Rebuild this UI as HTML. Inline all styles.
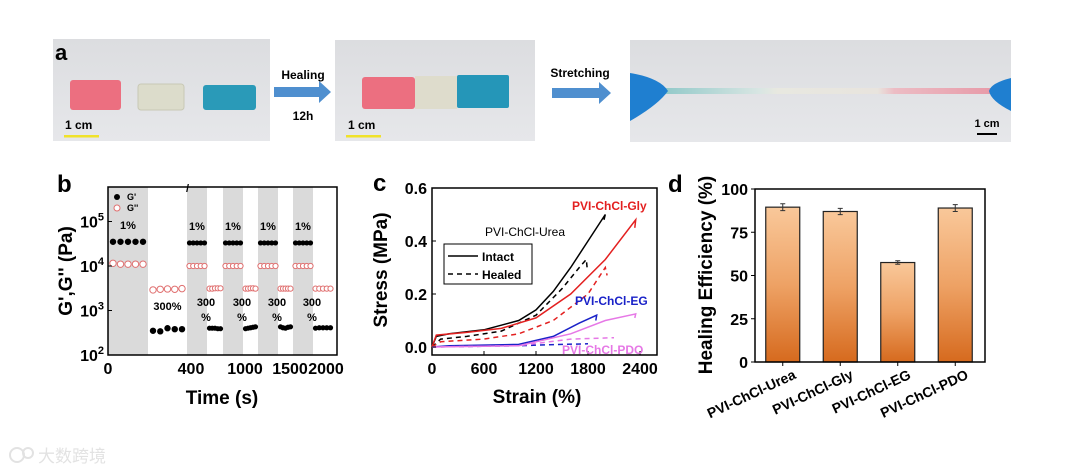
<!DOCTYPE html>
<html><head><meta charset="utf-8">
<style>
html,body{margin:0;padding:0;background:#fff;}
svg{display:block;font-family:"Liberation Sans",Arial,sans-serif;}
.b{font-weight:bold;}
</style></head>
<body>
<svg id="fig" width="1080" height="473" viewBox="0 0 1080 473" xmlns="http://www.w3.org/2000/svg">
<defs>
<linearGradient id="barg" x1="0" y1="0" x2="0" y2="1">
<stop offset="0" stop-color="#f9c89a"/><stop offset="0.5" stop-color="#eea265"/><stop offset="1" stop-color="#d66a1e"/>
</linearGradient>
<linearGradient id="photo" x1="0" y1="0" x2="0" y2="1">
<stop offset="0" stop-color="#dcdde0"/><stop offset="1" stop-color="#e6e7ea"/>
</linearGradient>
<linearGradient id="strip" x1="0" y1="0" x2="1" y2="0">
<stop offset="0" stop-color="#8fc8c8"/><stop offset="0.3" stop-color="#d9e6e3"/><stop offset="0.35" stop-color="#e8e8e0"/><stop offset="0.65" stop-color="#e8e4de"/><stop offset="0.7" stop-color="#ecbcc4"/><stop offset="1" stop-color="#e79aa8"/>
</linearGradient>
</defs>

<!-- Panel a -->
<g>
<rect x="53" y="39" width="217" height="102" fill="url(#photo)"/>
<text x="55" y="60" class="b" font-size="22">a</text>
<rect x="70" y="80" width="51" height="30" rx="3" fill="#ec6f80"/>
<rect x="138" y="84" width="46" height="26" rx="3" fill="#dcdccb" stroke="#c8c8b5"/>
<rect x="203" y="85" width="53" height="25" rx="3" fill="#2a9ab8"/>
<text x="65" y="129" class="b" font-size="12">1 cm</text>
<rect x="64" y="135" width="35" height="2.5" fill="#f0e22a"/>

<text x="303" y="79" text-anchor="middle" class="b" font-size="12">Healing</text>
<path d="M274 87 h45 v-6 l12 11 l-12 11 v-6 h-45z" fill="#4f8fcf"/>
<text x="303" y="120" text-anchor="middle" class="b" font-size="12">12h</text>

<rect x="335" y="40" width="200" height="101" fill="url(#photo)"/>
<rect x="362" y="77" width="53" height="32" rx="3" fill="#ec6f80"/>
<rect x="415" y="76" width="42" height="33" fill="#dedccc"/>
<rect x="457" y="75" width="52" height="33" rx="2" fill="#2596b8"/>
<text x="348" y="129" class="b" font-size="12">1 cm</text>
<rect x="346" y="135" width="35" height="2.5" fill="#f0e22a"/>

<text x="580" y="77" text-anchor="middle" class="b" font-size="12">Stretching</text>
<path d="M552 88 h47 v-6 l12 11 l-12 11 v-6 h-47z" fill="#4f8fcf"/>

<rect x="630" y="40" width="381" height="102" fill="url(#photo)"/>
<rect x="660" y="88" width="335" height="6" fill="url(#strip)"/>
<path d="M630 73 q30 5 38 18 q-10 14 -38 30z" fill="#1f7fd0"/>
<path d="M1011 78 q-20 5 -22 13 q2 10 22 20z" fill="#1f7fd0"/>
<text x="987" y="127" text-anchor="middle" class="b" font-size="11">1 cm</text>
<rect x="977" y="133" width="20" height="2" fill="#000"/>
</g>

<g id="pb"></g>
<g id="pc"></g>
<g id="pd"></g>

<g opacity="0.55">
<circle cx="17" cy="455" r="7" fill="none" stroke="#ccc" stroke-width="2"/>
<circle cx="28" cy="453" r="5" fill="none" stroke="#ccc" stroke-width="2"/>
<text x="38" y="462" font-size="17" fill="#ccc" font-family="'Liberation Sans','Noto Sans CJK SC',sans-serif">大数跨境</text>
</g>
</svg>

<script>
const NS='http://www.w3.org/2000/svg';
function mk(p,tag,at,txt){const e=document.createElementNS(NS,tag);for(const k in at)e.setAttribute(k,at[k]);if(txt!==undefined)e.textContent=txt;p.appendChild(e);return e;}

/* ---------- Panel b data ---------- */
const bStrains=['1%','300%','1%','300%','1%','300%','1%','300%','1%','300%'];
const bGp=[[35000,35000,35000,35000,35000],[350,340,400,380,380],[33000,33000,33000,33000,33000],[400,400,400,390,390],[33000,33000,33000,33000,33000],[390,400,410,420,430],[33000,33000,33000,33000,33000],[430,410,400,420,430],[33000,33000,33000,33000,33000],[400,410,410,410,410]];
const bGpp=[[11500,11000,11000,11000,11000],[2900,3000,3050,3000,3100],[10000,10000,10000,10000,10000],[3100,3100,3150,3150,3150],[10000,10000,10000,10000,10000],[3100,3100,3150,3150,3100],[10000,10000,10000,10000,10000],[3100,3100,3100,3100,3100],[10000,10000,10000,10000,10000],[3100,3100,3100,3100,3100]];
const bXTicks=['0','400','1000','1500','2000'];
const bYTicks=[2,3,4,5];

(function(){
 const g=document.getElementById('pb');
 const L=108,R=337,T=187,B=355;
 const segEdges=[108,148,187,207,223,243,258,278,293,313,333];
 const y=v=>B-(Math.log10(v)-2)*44.5;
 for(let i=0;i<bStrains.length;i++){
  if(bStrains[i]==='1%'){
   const r=mk(g,'rect',{x:segEdges[i],y:T,width:segEdges[i+1]-segEdges[i],height:B-T,fill:'#dadada'});
   
   
  }
 }
 const fr=mk(g,'rect',{x:L,y:T,width:R-L,height:B-T,fill:'none',stroke:'#000','stroke-width':1.5});
 
 const bm=mk(g,'text',{x:186,y:192,'font-size':11,'font-weight':'bold'},'/');
 
 for(let i=0;i<bStrains.length;i++){
  const a=segEdges[i],w=segEdges[i+1]-a,n=bGp[i].length;
  const wide=i<2;
  const pad=wide?5:2.5;
  const step=(w-2*pad)/(n-1);
  for(let j=0;j<n;j++){
   const cx=a+pad+j*step;
   const p=mk(g,'circle',{cx:cx,cy:y(bGp[i][j]),r:wide?3.2:2.6,fill:'#000'});
   
   const q=mk(g,'circle',{cx:cx,cy:y(bGpp[i][j]),r:wide?3.2:2.6,fill:'#fff',stroke:'#e07070','stroke-width':1});
   
  }
  const cx=a+w/2;
  if(bStrains[i]==='1%'){
   const t=mk(g,'text',{x:cx,y:y(bGp[i][0])-13,'text-anchor':'middle','font-size':11,'font-weight':'bold'},bStrains[i]);
   
  } else if(i===1){
   const t=mk(g,'text',{x:cx,y:310,'text-anchor':'middle','font-size':11,'font-weight':'bold'},bStrains[i]);
   
  } else {
   const t=mk(g,'text',{x:segEdges[i]-1,y:306,'text-anchor':'middle','font-size':11,'font-weight':'bold'},'300');
   
   const t2=mk(g,'text',{x:segEdges[i]-1,y:321,'text-anchor':'middle','font-size':11,'font-weight':'bold'},'%');
   
  }
 }
 bYTicks.forEach(e=>{
  const yy=y(Math.pow(10,e));
  mk(g,'line',{x1:L,x2:L+4,y1:yy,y2:yy,stroke:'#000'});
  const t=mk(g,'text',{x:L-4,y:yy+6,'text-anchor':'end','font-size':16,'font-weight':'bold'});
  
  t.textContent='10';
  mk(t,'tspan',{dy:-7,'font-size':11},String(e));
 });
 const xt=[108,191,245,290,326];
 bXTicks.forEach((s,i)=>{
  const t=mk(g,'text',{x:xt[i],y:374,'text-anchor':'middle','font-size':16,'font-weight':'bold'},s);
  
 });
 const xtl=mk(g,'text',{x:222,y:404,'text-anchor':'middle','font-size':19,'font-weight':'bold'},'Time (s)');
 
 const ytl=mk(g,'text',{x:0,y:0,transform:'translate(72,271) rotate(-90)','text-anchor':'middle','font-size':19,'font-weight':'bold'},"G',G'' (Pa)");
 
 const lb=mk(g,'text',{x:57,y:192,'font-size':24,'font-weight':'bold'},'b');
 
 const l1=mk(g,'circle',{cx:117,cy:197,r:3,fill:'#000'});
 const l1t=mk(g,'text',{x:127,y:200,'font-size':9,'font-weight':'bold'},"G'");
 const l2=mk(g,'circle',{cx:117,cy:208,r:3,fill:'#fff',stroke:'#e07070'});
 const l2t=mk(g,'text',{x:127,y:211,'font-size':9,'font-weight':'bold'},"G''");
})();

/* ---------- Panel c data ---------- */
const cNames=['PVI-ChCl-Urea','PVI-ChCl-Gly','PVI-ChCl-EG','PVI-ChCl-PDO'];
const cColors=['#000000','#e32020','#1a22c8','#e678e6'];
const cIntactStrain=[[0,50,200,600,1000,1200,1400,1600,1800,2000,1985],[0,50,400,800,1200,1600,2000,2350,2340],[0,200,1000,1400,1700,1900,1890],[0,1000,1600,2000,2350,2340]];
const cIntactStress=[[0,0.04,0.05,0.065,0.1,0.14,0.21,0.3,0.4,0.5,0.48],[0,0.045,0.055,0.07,0.11,0.2,0.33,0.48,0.45],[0,0.005,0.01,0.04,0.09,0.12,0.1],[0,0.005,0.05,0.1,0.125,0.11]];
const cHealStrain=[[0,100,400,800,1200,1500,1700,1780,1790],[0,100,600,1000,1400,1800,2000,2020],[0,1000,1500,1800],[0,1000,1600,2100]];
const cHealStress=[[0,0.03,0.04,0.06,0.12,0.22,0.3,0.33,0.3],[0,0.02,0.03,0.05,0.1,0.2,0.3,0.27],[0,0.005,0.01,0.012],[0,0.005,0.03,0.035]];
const cXTicks=[0,600,1200,1800,2400];
const cYTicks=[0,0.2,0.4,0.6];

(function(){
 const g=document.getElementById('pc');
 const L=432,R=657,T=188,B=355;
 const x=v=>L+v*(640-L)/2400;
 const y=v=>347-v*(347-188)/0.6;
 const fr=mk(g,'rect',{x:L,y:T,width:R-L,height:B-T,fill:'none',stroke:'#000','stroke-width':1.5});
 
 for(let s=0;s<cNames.length;s++){
  const d1=cIntactStrain[s].map((v,i)=>(i?'L':'M')+x(v).toFixed(1)+' '+y(cIntactStress[s][i]).toFixed(1)).join(' ');
  const p=mk(g,'path',{d:d1,fill:'none',stroke:cColors[s],'stroke-width':1.5});
  
  const d2=cHealStrain[s].map((v,i)=>(i?'L':'M')+x(v).toFixed(1)+' '+y(cHealStress[s][i]).toFixed(1)).join(' ');
  const q=mk(g,'path',{d:d2,fill:'none',stroke:cColors[s],'stroke-width':1.5,'stroke-dasharray':'5,4'});
  
 }
 cXTicks.forEach(v=>{
  mk(g,'line',{x1:x(v),x2:x(v),y1:B,y2:B-4,stroke:'#000'});
  const t=mk(g,'text',{x:x(v),y:374,'text-anchor':'middle','font-size':16,'font-weight':'bold'},String(v));
  
 });
 cYTicks.forEach(v=>{
  mk(g,'line',{x1:L,x2:L+4,y1:y(v),y2:y(v),stroke:'#000'});
  const t=mk(g,'text',{x:L-5,y:y(v)+6,'text-anchor':'end','font-size':16,'font-weight':'bold'},v.toFixed(1));
  
 });
 const xtl=mk(g,'text',{x:537,y:403,'text-anchor':'middle','font-size':19,'font-weight':'bold'},'Strain (%)');
 
 const ytl=mk(g,'text',{x:0,y:0,transform:'translate(387,270) rotate(-90)','text-anchor':'middle','font-size':19,'font-weight':'bold'},'Stress (MPa)');
 
 const lb=mk(g,'text',{x:373,y:191,'font-size':24,'font-weight':'bold'},'c');
 
 const labs=[[485,236,'#000','normal'],[572,210,'#e32020','bold'],[575,305,'#1a22c8','bold'],[562,354,'#e678e6','bold']];
 labs.forEach((a,i)=>{
  const t=mk(g,'text',{x:a[0],y:a[1],'font-size':12,fill:a[2],'font-weight':a[3]},cNames[i]);
  
 });
 const lg=mk(g,'rect',{x:444,y:244,width:88,height:40,fill:'#fff',stroke:'#000'});
 
 mk(g,'line',{x1:448,x2:478,y1:256,y2:256,stroke:'#000','stroke-width':1.5});
 const i1=mk(g,'text',{x:482,y:261,'font-size':12,'font-weight':'bold'},'Intact');
 
 mk(g,'line',{x1:448,x2:478,y1:274,y2:274,stroke:'#000','stroke-width':1.5,'stroke-dasharray':'5,4'});
 const i2=mk(g,'text',{x:482,y:279,'font-size':12,'font-weight':'bold'},'Healed');
 
})();

/* ---------- Panel d data ---------- */
const dCats=['PVI-ChCl-Urea','PVI-ChCl-Gly','PVI-ChCl-EG','PVI-ChCl-PDO'];
const dVals=[89.5,87,57.5,89];
const dErr=[2,1.8,1,2];
const dYTicks=[0,25,50,75,100];

(function(){
 const g=document.getElementById('pd');
 const L=755,R=985,T=189,B=362;
 const y=v=>B-v*(B-T)/100;
 const bw=(R-L)/4;
 dCats.forEach((c,i)=>{
  const cx=L+bw*(i+0.5)-1;
  const r=mk(g,'rect',{x:cx-17,y:y(dVals[i]),width:34,height:B-y(dVals[i]),fill:'url(#barg)',stroke:'#222','stroke-width':1.2});
  
  const e=mk(g,'path',{d:`M${cx} ${y(dVals[i]+dErr[i])} V${y(dVals[i]-dErr[i])} M${cx-2.5} ${y(dVals[i]+dErr[i])} h5 M${cx-2.5} ${y(dVals[i]-dErr[i])} h5`,stroke:'#333','stroke-width':1,fill:'none'});
  
  mk(g,'line',{x1:cx,x2:cx,y1:B,y2:B+4,stroke:'#000'});
  const t=mk(g,'text',{x:0,y:0,transform:`translate(${cx+14},${B+16}) rotate(-25)`,'text-anchor':'end','font-size':14,'font-weight':'bold'},c);
  
 });
 const fr=mk(g,'rect',{x:L,y:T,width:R-L,height:B-T,fill:'none',stroke:'#000','stroke-width':1.5});
 
 dYTicks.forEach(v=>{
  mk(g,'line',{x1:L,x2:L-4,y1:y(v),y2:y(v),stroke:'#000'});
  const t=mk(g,'text',{x:L-7,y:y(v)+6,'text-anchor':'end','font-size':16,'font-weight':'bold'},String(v));
  
 });
 const ytl=mk(g,'text',{x:0,y:0,transform:'translate(712,275) rotate(-90)','text-anchor':'middle','font-size':19,'font-weight':'bold'},'Healing Efficiency (%)');
 
 const lb=mk(g,'text',{x:668,y:192,'font-size':24,'font-weight':'bold'},'d');
 
})();
</script>
</body></html>
